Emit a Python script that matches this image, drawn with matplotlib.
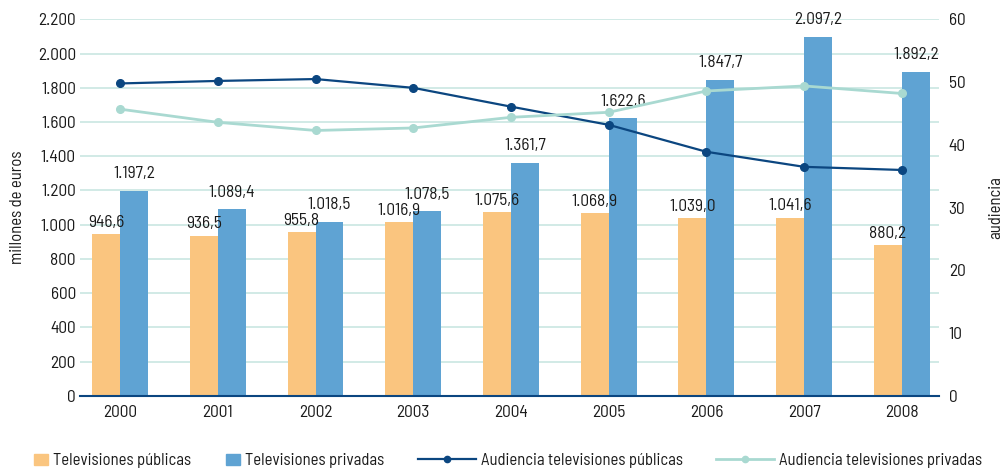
import matplotlib
matplotlib.use("Agg")
import matplotlib.pyplot as plt
from matplotlib.lines import Line2D
from matplotlib.patches import Rectangle
import numpy as np

plt.rcParams['font.family'] = ['Barlow Semi Condensed', 'DejaVu Sans']

years = ['2000', '2001', '2002', '2003', '2004', '2005', '2006', '2007', '2008']
tv_publicas = [946.6, 936.5, 955.8, 1016.9, 1075.6, 1068.9, 1039.0, 1041.6, 880.2]
tv_privadas = [1197.2, 1089.4, 1018.5, 1078.5, 1361.7, 1622.6, 1847.7, 2097.2, 1892.2]
aud_publicas = [49.8, 50.2, 50.5, 49.1, 46.1, 43.2, 38.9, 36.5, 36.0]
aud_privadas = [45.7, 43.6, 42.3, 42.7, 44.4, 45.2, 48.6, 49.4, 48.2]

c_pub = '#FAC57F'
c_priv = '#5FA3D3'
c_lpub = '#0B4680'
c_lpriv = '#A9D9D1'
c_grid = '#C9E6E2'
c_txt = '#1a1a1a'
fs = 12.5
fs_leg = 12


def fmt_es(v):
    s = f"{v:,.1f}"
    return s.replace(',', 'X').replace('.', ',').replace('X', '.')


fig = plt.figure(figsize=(10.03, 4.73), dpi=100)
ax = fig.add_axes([0.0798, 0.1634, 0.8564, 0.7954])
ax2 = ax.twinx()

x = np.arange(len(years))
w = 0.286
b1 = ax.bar(x - w / 2, tv_publicas, w, color=c_pub, zorder=2)
b2 = ax.bar(x + w / 2, tv_privadas, w, color=c_priv, zorder=2)

for rect, v in zip(b1, tv_publicas):
    ax.annotate(fmt_es(v), (rect.get_x() + rect.get_width() / 2, v),
                xytext=(0, 3), textcoords='offset points',
                ha='center', va='bottom', fontsize=fs, color=c_txt, zorder=5)
for rect, v in zip(b2, tv_privadas):
    ax.annotate(fmt_es(v), (rect.get_x() + rect.get_width() / 2, v),
                xytext=(0, 7), textcoords='offset points',
                ha='center', va='bottom', fontsize=fs, color=c_txt, zorder=5)

ax.set_ylim(0, 2200)
ax.set_yticks(np.arange(0, 2201, 200))
ax.set_yticklabels([fmt_es(t)[:-2] for t in np.arange(0, 2201, 200)])
ax.set_xlim(-0.41, 8.38)
ax.set_xticks(x)
ax.set_xticklabels(years)
ax.grid(axis='y', color=c_grid, linewidth=1.2, zorder=0)
ax.set_axisbelow(True)
ax.tick_params(axis='y', length=0, pad=3, labelsize=fs, colors=c_txt)
ax.tick_params(axis='x', length=0, pad=7, labelsize=fs, colors=c_txt)
for s in ['top', 'right', 'left']:
    ax.spines[s].set_visible(False)
ax.spines['bottom'].set_color(c_lpub)
ax.spines['bottom'].set_linewidth(1.5)
ax.spines['bottom'].set_zorder(4)
ax.set_ylabel('millones de euros', fontsize=fs_leg, labelpad=9, color=c_txt)

ax2.plot(x, aud_publicas, color=c_lpub, lw=1.6, marker='o', ms=5.5, zorder=3)
ax2.plot(x, aud_privadas, color=c_lpriv, lw=2, marker='o', ms=5.5, zorder=3)
ax2.set_ylim(0, 60)
ax2.set_yticks(np.arange(0, 61, 10))
ax2.tick_params(axis='y', length=0, pad=7, labelsize=fs, colors=c_txt)
for s in ['top', 'right', 'left', 'bottom']:
    ax2.spines[s].set_visible(False)
ax2.set_ylabel('audiencia', fontsize=fs_leg, labelpad=16, color=c_txt)

# legend: two parts so squares and line handles get their own lengths
sq_handles = [Rectangle((0, 0), 1, 1, color=c_pub), Rectangle((0, 0), 1, 1, color=c_priv)]
leg1 = fig.legend(sq_handles, ['Televisiones públicas', 'Televisiones privadas'],
                  loc='center left', bbox_to_anchor=(0.034, 0.026), ncol=2, frameon=False,
                  fontsize=fs_leg, handlelength=0.84, handleheight=0.6, handletextpad=0.3,
                  columnspacing=2.1, borderpad=0, borderaxespad=0)
ln_handles = [Line2D([], [], color=c_lpub, lw=1.6, marker='o', ms=4.5),
              Line2D([], [], color=c_lpriv, lw=2, marker='o', ms=4.5)]
leg2 = fig.legend(ln_handles, ['Audiencia televisiones públicas', 'Audiencia televisiones privadas'],
                  loc='center left', bbox_to_anchor=(0.417, 0.026), ncol=2, frameon=False,
                  fontsize=fs_leg, handlelength=3.45, handletextpad=0.3,
                  columnspacing=2.0, borderpad=0, borderaxespad=0)
for t in leg1.get_texts() + leg2.get_texts():
    t.set_color(c_txt)

fig.savefig('out.png', dpi=100)
